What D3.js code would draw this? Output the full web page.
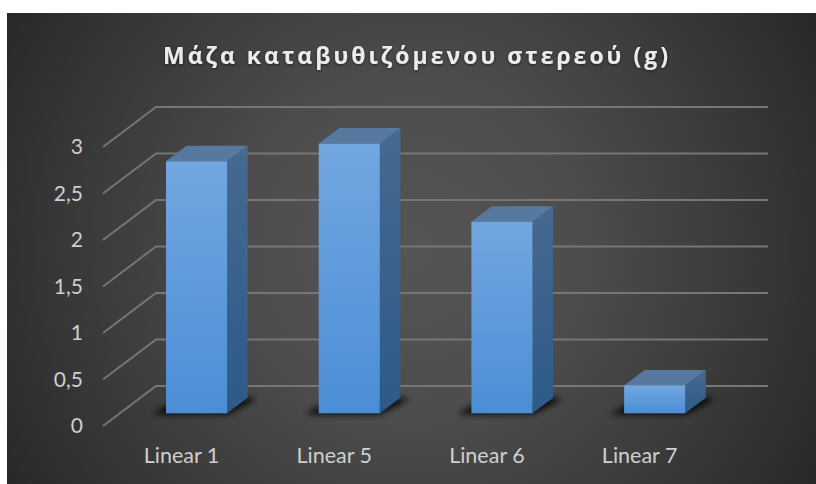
<!DOCTYPE html>
<html><head><meta charset="utf-8">
<script src="https://cdnjs.cloudflare.com/ajax/libs/d3/7.8.5/d3.min.js"></script>
<style>html,body{margin:0;padding:0;background:#fff}svg{display:block}</style></head>
<body><svg id="c" width="816" height="484"></svg>
<script>
const categories = ["Linear 1","Linear 5","Linear 6","Linear 7"];
const values = [2.71,2.9,2.06,0.3];
const yTicks = [0,0.5,1,1.5,2,2.5,3];
const titleText = "Μάζα καταβυθιζόμενου στερεού (g)";

const svg = d3.select("#c");
const defs = svg.append("defs");
const bg = defs.append("radialGradient").attr("id","bg").attr("gradientUnits","userSpaceOnUse")
  .attr("cx",411).attr("cy",248).attr("r",470);
[[0,"#555555"],[0.35,"#4d4d4d"],[0.75,"#373737"],[1,"#282828"]].forEach(s=>bg.append("stop").attr("offset",s[0]).attr("stop-color",s[1]));
function vgrad(id,a,b){const g=defs.append("linearGradient").attr("id",id).attr("x1",0).attr("y1",0).attr("x2",0).attr("y2",1);
  g.append("stop").attr("offset",0).attr("stop-color",a);g.append("stop").attr("offset",1).attr("stop-color",b);}
vgrad("front","#72a6e0","#4b8ed6");
vgrad("side","#466a90","#2d5a88");
defs.append("filter").attr("id","blur").attr("x","-30%").attr("y","-60%").attr("width","160%").attr("height","220%")
  .append("feGaussianBlur").attr("stdDeviation",3.2);
const glow=defs.append("filter").attr("id","tglow").attr("x","-5%").attr("y","-30%").attr("width","110%").attr("height","160%");
glow.append("feDropShadow").attr("dx",0).attr("dy",1).attr("stdDeviation",1.5).attr("flood-color","#000").attr("flood-opacity",0.55);

svg.append("rect").attr("x",7).attr("y",13).attr("width",809).attr("height",471).attr("fill","url(#bg)");

// scales
const y = d3.scaleLinear().domain([0,3]).range([386,107]);
const x = d3.scaleBand().domain(categories).range([120.2,731]).paddingInner(0.6).paddingOuter(0.3);
const backL=156, backR=768, depthX=-53, depthY=40;
const barDepthX=20.6, barDepthY=-15.5, barBase=413.3, unit=y(0)-y(1);

// gridlines
const grid=svg.append("g").attr("fill","none").attr("stroke","#767676").attr("stroke-width",2);
grid.selectAll("path").data(yTicks).join("path")
  .attr("d",t=>d3.line()([[backL+depthX,y(t)+depthY],[backL,y(t)],[backR,y(t)]]));

// y labels
svg.append("g").selectAll("text").data(yTicks).join("text")
  .attr("x",83).attr("y",t=>y(t)+depthY+7).attr("text-anchor","end")
  .attr("font-family","Lato, 'Open Sans', sans-serif").attr("font-size",21).attr("fill","#cfcfcf")
  .text(t=>String(t).replace(".",","));

// bars
const bars=svg.append("g").selectAll("g").data(categories.map((c,i)=>({c,v:values[i]}))).join("g");
const bw=x.bandwidth();
const X=d=>x(d.c);
bars.append("path").attr("filter","url(#blur)").attr("fill","#000").attr("opacity",0.9)
  .attr("d",d=>{const l=X(d),r=l+bw;return d3.line()([[l-14,barBase+1],[r,barBase+1],[r+barDepthX+10,barBase+barDepthY+1],[r+barDepthX-6,barBase+barDepthY],[r,barBase-8],[l+2,barBase-8]])+"Z";});
bars.append("path").attr("fill","url(#side)").attr("d",d=>{const l=X(d)+bw,t=barBase-d.v*unit;
  return d3.line()([[l,barBase],[l+barDepthX,barBase+barDepthY],[l+barDepthX,t+barDepthY],[l,t]])+"Z";});
bars.append("path").attr("fill","#57789f").attr("d",d=>{const l=X(d),t=barBase-d.v*unit;
  return d3.line()([[l,t],[l+barDepthX,t+barDepthY],[l+bw+barDepthX,t+barDepthY],[l+bw,t]])+"Z";});
bars.append("rect").attr("fill","url(#front)").attr("x",X).attr("y",d=>barBase-d.v*unit).attr("width",bw).attr("height",d=>d.v*unit);

// x labels
svg.append("g").selectAll("text").data(categories).join("text")
  .attr("x",c=>x(c)+bw/2-15).attr("y",463).attr("text-anchor","middle")
  .attr("font-family","Lato, 'Open Sans', sans-serif").attr("font-size",21.5).attr("fill","#cfcfcf").text(c=>c);

svg.append("text").attr("x",417).attr("y",64).attr("text-anchor","middle").attr("filter","url(#tglow)")
  .attr("font-family","'Open Sans', sans-serif").attr("font-weight",700).attr("font-size",23).attr("letter-spacing",3)
  .attr("fill","#ececec").text(titleText);
</script></body></html>
